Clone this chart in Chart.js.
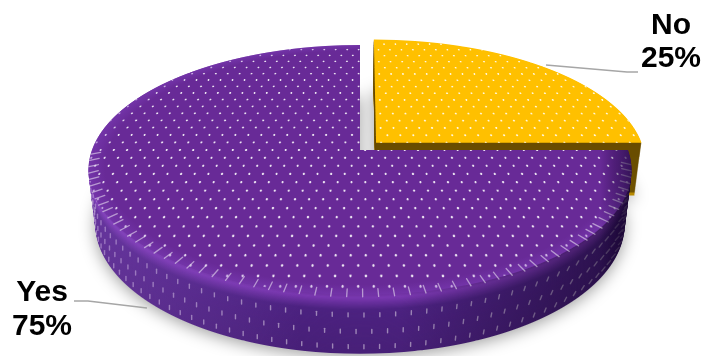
<!DOCTYPE html>
<html>
<head>
<meta charset="utf-8">
<title>Yes / No share</title>
<style>
  html, body { margin: 0; padding: 0; background: #fff; }
  canvas { display: block; }
</style>
<script src="https://cdn.jsdelivr.net/npm/chart.js@4/dist/chart.umd.min.js"></script>
</head>
<body>
<canvas id="chart" width="703" height="356"></canvas>
<script>
const labels = ['No', 'Yes'];
const values = [25, 75];
const sliceColors = ['#FFC000', '#682A97'];
const sliceOffsets = [52, 0];

// Perspective of the tilted disc: apex on screen, widths, and depth of the wall.
const view = { ax: 360, ay: 150, a: 121.8, b: 268, k: -0.16, depth: 53, wallX: 0.975, wallY: 1.04 };
const W = 703, H = 356;

function layerParams(t) {
  return {
    y0: view.ay + view.depth * t,
    a: view.a * (1 + (view.wallY - 1) * t),
    b: view.b * (1 + (view.wallX - 1) * t)
  };
}

function project(u, v, t) {
  const p = layerParams(t), d = 1 + view.k * v;
  return { x: view.ax + p.b * u / d, y: p.y0 + p.a * v / d };
}

// Paints one arc element through the perspective, one pixel row at a time.
function paintArc(c, arc, fill, t, cx, cy, R) {
  const p = layerParams(t);
  const base = arc.options;
  const opts = Object.create(base);
  opts.backgroundColor = fill;
  opts.borderWidth = 0;
  arc.options = opts;
  const top = Math.max(0, Math.floor(project(0, -1.12, t).y));
  const bottom = Math.min(H - 1, Math.ceil(project(0, 1.01, t).y));
  for (let row = top; row <= bottom; row++) {
    const Y = row + 0.5, dy = Y - p.y0;
    const v = dy / (p.a - view.k * dy);
    const d = 1 + view.k * v;
    const sx = p.b / d / R, sy = p.a / (d * d) / R;
    c.save();
    c.beginPath();
    c.rect(0, row, W, 1);
    c.clip();
    c.setTransform(sx, 0, 0, sy, view.ax - sx * cx, Y - sy * (cy + v * R));
    arc.draw(c);
    c.restore();
  }
  arc.options = base;
}

function newLayer() {
  const cv = document.createElement('canvas');
  cv.width = W; cv.height = H;
  return cv;
}

// Staggered dot texture that lies in the plane of the disc.
function dotPattern(c) {
  const cell = document.createElement('canvas');
  cell.width = 30; cell.height = 77;
  const g = cell.getContext('2d');
  const dot = (x, y) => {
    g.fillStyle = 'rgba(255,255,255,0.25)';
    g.beginPath(); g.ellipse(x, y, 3.2, 7, 0, 0, Math.PI * 2); g.fill();
    g.fillStyle = 'rgba(255,255,255,0.82)';
    g.beginPath(); g.ellipse(x, y, 1.9, 4.2, 0, 0, Math.PI * 2); g.fill();
  };
  dot(7.5, 19); dot(22.5, 57.5);
  const pattern = c.createPattern(cell, 'repeat');
  pattern.setTransform(new DOMMatrix().scale(0.25));
  return pattern;
}

function mix(c1, c2, f) {
  const r = c1.map((v, i) => Math.round(v + (c2[i] - v) * f));
  return `rgb(${r[0]},${r[1]},${r[2]})`;
}

function purpleWallColor(t) {
  if (t < 0.06) return mix([112, 50, 162], [122, 56, 176], t / 0.06);
  if (t < 0.26) return mix([122, 56, 176], [76, 34, 128], (t - 0.06) / 0.2);
  return mix([76, 34, 128], [72, 32, 120], (t - 0.26) / 0.74);
}

function yellowWallColor(t) {
  if (t > 0.95) return '#B88A00';
  return mix([104, 76, 0], [112, 82, 0], t);
}

function paintSlice(arc, isPurple, cx, cy, R) {
  const cv = newLayer(), c = cv.getContext('2d');
  for (let i = view.depth; i >= 1; i--) {
    const t = i / view.depth;
    paintArc(c, arc, isPurple ? purpleWallColor(t) : yellowWallColor(t), t, cx, cy, R);
  }
  if (isPurple) {
    // Wall dots and shading: stretched dots lean with the curve of the wall.
    c.globalCompositeOperation = 'source-atop';
    c.strokeStyle = 'rgba(226,216,232,0.55)';
    c.lineWidth = 1.4;
    c.lineCap = 'round';
    [0.34, 0.62, 0.88].forEach((t, row) => {
      for (let deg = (row % 2) * 1.44; deg < 180; deg += 2.88) {
        const a = deg * Math.PI / 180;
        const p = project(Math.cos(a), Math.sin(a), t);
        const side = Math.cos(a);
        const lean = side > 0 ? side * side * 1.1 : 0;
        c.beginPath();
        c.moveTo(p.x + lean * 2, p.y - 2);
        c.lineTo(p.x - lean * 2, p.y + 2);
        c.stroke();
      }
    });
    const light = c.createLinearGradient(85, 0, 300, 0);
    light.addColorStop(0, 'rgba(150,90,210,0.38)');
    light.addColorStop(1, 'rgba(150,90,210,0)');
    c.fillStyle = light;
    c.fillRect(85, 0, 215, H);
    const dark = c.createLinearGradient(400, 0, 630, 0);
    dark.addColorStop(0, 'rgba(10,0,25,0)');
    dark.addColorStop(0.85, 'rgba(10,0,25,0.45)');
    dark.addColorStop(1, 'rgba(10,0,25,0.6)');
    c.fillStyle = dark;
    c.fillRect(400, 0, 303, H);
    c.globalCompositeOperation = 'source-over';
  }
  // Top face: flat colour, then dots, then a soft rim for the purple slice.
  paintArc(c, arc, arc.options.backgroundColor, 0, cx, cy, R);
  paintArc(c, arc, dotPattern(c), 0, cx, cy, R);
  if (isPurple) {
    const rim = c.createRadialGradient(cx, cy, 0, cx, cy, R);
    rim.addColorStop(0, 'rgba(128,64,190,0)');
    rim.addColorStop(0.94, 'rgba(128,64,190,0)');
    rim.addColorStop(1, 'rgba(128,64,190,0.45)');
    paintArc(c, arc, rim, 0, cx, cy, R);
    c.globalCompositeOperation = 'source-atop';
    c.strokeStyle = 'rgba(255,255,255,0.5)';
    c.lineWidth = 1.3;
    c.lineCap = 'round';
    for (let deg = 6; deg < 180; deg += 2.88) {
      const a = deg * Math.PI / 180;
      const p1 = project(0.965 * Math.cos(a), 0.965 * Math.sin(a), 0);
      const p2 = project(1.0 * Math.cos(a), 1.0 * Math.sin(a), 0.03);
      c.beginPath();
      c.moveTo(p1.x, p1.y);
      c.lineTo(p2.x, p2.y);
      c.stroke();
    }
    const edge = c.createLinearGradient(600, 0, 634, 0);
    edge.addColorStop(0, 'rgba(20,0,45,0)');
    edge.addColorStop(1, 'rgba(20,0,45,0.7)');
    c.fillStyle = edge;
    c.fillRect(600, 150, 40, 206);
    c.globalCompositeOperation = 'source-over';
  }
  return cv;
}

const pie3d = {
  id: 'pie3d',
  beforeDatasetsDraw(chart) {
    const ctx = chart.ctx;
    const arcs = chart.getDatasetMeta(0).data;
    const cx = arcs[1].x, cy = arcs[1].y, R = arcs[1].outerRadius;

    // Soft ground shadow from the footprint of the base.
    const sh = newLayer(), sc = sh.getContext('2d');
    arcs.forEach(a => paintArc(sc, a, '#000', 1, cx, cy, R));
    ctx.save();
    ctx.setTransform(1, 0, 0, 1, 0, 0);
    ctx.filter = 'blur(8px)';
    ctx.globalAlpha = 0.38;
    ctx.drawImage(sh, 0, 3);
    ctx.filter = 'none';
    ctx.globalAlpha = 1;
    ctx.drawImage(paintSlice(arcs[0], false, cx, cy, R), 0, 0);
    ctx.drawImage(paintSlice(arcs[1], true, cx, cy, R), 0, 0);
    ctx.restore();
    return false;
  },
  afterDraw(chart) {
    const ctx = chart.ctx;
    ctx.save();
    // Leader lines from the slices to their labels.
    ctx.strokeStyle = '#A6A6A6';
    ctx.lineWidth = 1.6;
    ctx.beginPath();
    ctx.moveTo(546, 65); ctx.lineTo(627, 72); ctx.lineTo(638, 72);
    ctx.moveTo(74, 301); ctx.lineTo(88, 301); ctx.lineTo(147, 308);
    ctx.stroke();
    // Two-line category and percent labels.
    ctx.fillStyle = '#000';
    ctx.font = 'bold 30px "Liberation Sans", Arial, sans-serif';
    ctx.textAlign = 'center';
    ctx.textBaseline = 'alphabetic';
    const total = values.reduce((s, v) => s + v, 0);
    const spots = [{ x: 671, y: 33.5 }, { x: 42, y: 301 }];
    labels.forEach((name, i) => {
      ctx.fillText(name, spots[i].x, spots[i].y);
      ctx.fillText(Math.round(values[i] / total * 100) + '%', spots[i].x, spots[i].y + 33.5);
    });
    ctx.restore();
  }
};

new Chart(document.getElementById('chart'), {
  type: 'pie',
  data: {
    labels: labels,
    datasets: [{
      data: values,
      backgroundColor: sliceColors,
      offset: sliceOffsets,
      borderWidth: 0
    }]
  },
  options: {
    responsive: false,
    animation: false,
    events: [],
    plugins: { legend: { display: false }, tooltip: { enabled: false } }
  },
  plugins: [pie3d]
});
</script>
</body>
</html>
